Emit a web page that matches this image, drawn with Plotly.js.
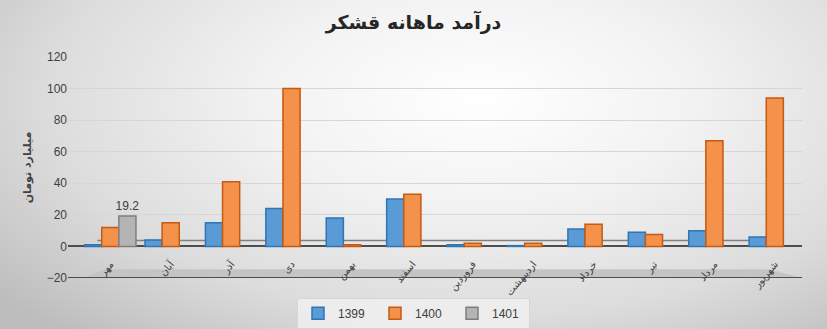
<!DOCTYPE html>
<html>
<head>
<meta charset="utf-8">
<script src="https://cdn.plot.ly/plotly-3.0.1.min.js"></script>
<style>
html,body{margin:0;padding:0;}
#chart{width:827px;height:329px;background:radial-gradient(ellipse 75% 95% at 58% 30%, #ffffff 0%, #f2f2f2 35%, #dcdcdc 70%, #bdbdbd 100%);}
</style>
</head>
<body>
<div id="chart"></div>
<script>
const months = ["مهر","آبان","آذر","دی","بهمن","اسفند","فروردین","اردیبهشت","خرداد","تیر","مرداد","شهریور"];
const v1399 = [1, 4, 15, 24, 18, 30, 1, 0.5, 11, 9, 10, 6];
const v1400 = [12, 15, 41, 100, 1, 33, 2, 2, 14, 7.5, 67, 94];
const v1401 = [19.2, null, null, null, null, null, null, null, null, null, null, null];
const seriesNames = ["1399","1400","1401"];

const font = "DejaVu Sans, Arial, sans-serif";
const traces = [
  {type:'bar', name:seriesNames[0], x:months, y:v1399,
   marker:{color:'#5b9bd5', line:{color:'#2e75b6', width:1.5}}},
  {type:'bar', name:seriesNames[1], x:months, y:v1400,
   marker:{color:'#f4914a', line:{color:'#c55a11', width:1.5}}},
  {type:'bar', name:seriesNames[2], x:months, y:v1401,
   marker:{color:'#b4b4b4', line:{color:'#7f7f7f', width:1.5}},
   text:v1401.map(v => v==null ? '' : String(v)), textposition:'outside', constraintext:'none',
   textfont:{size:12, color:'#404040', family:'Liberation Sans, Arial, sans-serif'}, cliponaxis:false}
];

const layout = {
  width:827, height:329,
  margin:{l:68, r:25, t:57, b:51},
  paper_bgcolor:'rgba(0,0,0,0)', plot_bgcolor:'rgba(0,0,0,0)',
  title:{text:'<b>درآمد ماهانه قشکر</b>', x:0.5, xanchor:'center', y:0.933, yanchor:'middle',
         font:{family:font, size:19, color:'#262626'}},
  barmode:'group', bargap:0.15, bargroupgap:0,
  xaxis:{range:[-0.7, 11.45], showgrid:false, showline:false, ticks:'',
         tickangle:-50, anchor:'free', position:20/140, automargin:false,
         ticklabelstandoff:9,
         tickfont:{family:font, size:10, color:'#404040'}, fixedrange:true},
  yaxis:{range:[-20,120], dtick:20, showgrid:true, gridcolor:'#d6d6d6', gridwidth:1,
         zeroline:true, zerolinecolor:'#4d4d4d', zerolinewidth:2, automargin:false,
         tickfont:{family:'Liberation Sans, Arial, sans-serif', size:12, color:'#404040'},
         title:{text:'<b>میلیارد تومان</b>', font:{family:font, size:11, color:'#404040'}, standoff:12}},
  showlegend:true,
  legend:{orientation:'h', x:0.5, xanchor:'center', xref:'container', yref:'container', y:0.095, yanchor:'top',
          bgcolor:'rgba(238,238,238,0.9)', bordercolor:'#d6d6d6', borderwidth:1,
          font:{family:'Liberation Sans, Arial, sans-serif', size:12, color:'#404040'},
          entrywidth:32, entrywidthmode:'pixels', itemwidth:30, traceorder:'normal'},
  shapes:[
    {type:'path', xref:'paper', yref:'y', layer:'below',
     path:'M 0.02,-20 L 0.05,-14.5 L 0.955,-14.5 L 1,-20 Z',
     fillcolor:'#c4c4c4', line:{width:0}},
    {type:'line', xref:'paper', yref:'y', x0:0, x1:1, y0:-20, y1:-20,
     line:{color:'#4d4d4d', width:2}},
    {type:'line', xref:'paper', yref:'y', x0:0.04, x1:0.96, y0:3.8, y1:3.8, layer:'below',
     line:{color:'#808080', width:1.5}}
  ]
};
Plotly.newPlot('chart', traces, layout, {displayModeBar:false, staticPlot:true});
</script>
</body>
</html>
